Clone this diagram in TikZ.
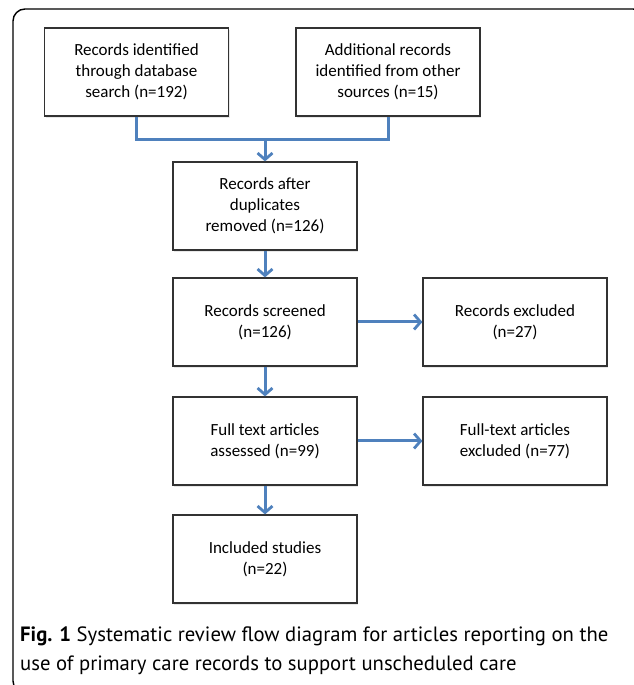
\documentclass[tikz,border=0pt]{standalone}
\usepackage{fontspec}
\setmainfont{Carlito}
\newfontfamily\captionfont{PT Sans}
\usepackage{xcolor}
\usepackage{tikz}
\usetikzlibrary{
	arrows.meta,
	positioning,
	shadows
}
\definecolor{FlowBlue}{RGB}{79,129,189}
\definecolor{BoxGray}{RGB}{50,50,50}

\begin{document}
\begin{tikzpicture}[x=1pt, y=1pt,
		flowbox/.style={draw=BoxGray, line width=1.2pt, fill=white, minimum width=184pt, minimum height=88pt, align=center, inner sep=4pt, font=\fontsize{17}{21}\selectfont, drop shadow={opacity=0.18, shadow xshift=1pt, shadow yshift=-2.5pt}},
		flowarrow/.style={draw=FlowBlue, line width=3pt, -{Straight Barb[length=6.5pt, width=15pt, line width=2.8pt]}},
		flowline/.style={draw=FlowBlue, line width=3pt}
	]
			\useasboundingbox (0,0) rectangle (633,685);
			\draw[line width=1.4pt, rounded corners=12pt] (13,676) rectangle (645,-8);
			\node[flowbox] (dbsearch) at (136.5,613) {Records identified\\through database\\search (n=192)};
			\node[flowbox] (othersrc) at (388,613) {Additional records\\identified from other\\sources (n=15)};
			\node[flowbox] (dedup) at (265,479) {Records after\\duplicates\\removed (n=126)};
			\node[flowbox] (screened) at (265,363) {Records screened\\(n=126)};
			\node[flowbox] (excluded) at (515,363) {Records excluded\\(n=27)};
			\node[flowbox] (fulltext) at (265,244) {Full text articles\\assessed (n=99)};
			\node[flowbox] (ftexcl) at (515,244) {Full-text articles\\excluded (n=77)};
			\node[flowbox] (included) at (265,126) {Included studies\\(n=22)};
			\coordinate (join) at (265,545);
			\draw[flowline] (dbsearch.south) |- (join) -| (othersrc.south);
			\draw[flowarrow] (join) -- (dedup.north);
			\draw[flowarrow] (dedup) -- (screened);
			\draw[flowarrow] (screened) -- (excluded);
			\draw[flowarrow] (screened) -- (fulltext);
			\draw[flowarrow] (fulltext) -- (ftexcl);
			\draw[flowarrow] (fulltext) -- (included);
			% caption
			\node[anchor=west, align=left, inner sep=0pt, font=\captionfont\fontsize{20.7}{29}\selectfont] (caption) at (20,34) {\textbf{Fig. 1} Systematic review flow diagram for articles reporting on the\\use of primary care records to support unscheduled care};
		\end{tikzpicture}
\end{document}
